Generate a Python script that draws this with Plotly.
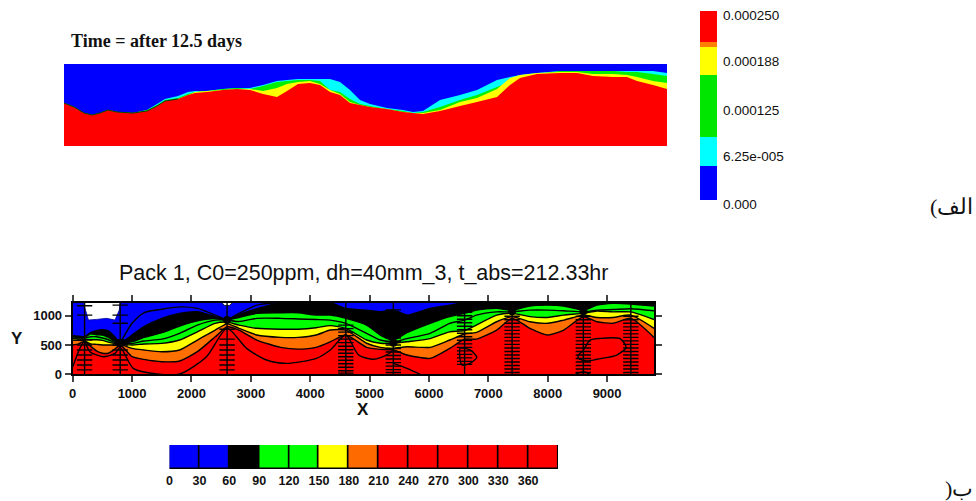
import plotly.graph_objects as go

W, H = 976, 501

# ---------- top field: height of each band edge above the base, sampled along the section
top_x = [0,10,20,28,36,44,53,69,83,93,101,114,124,131,143,159,173,186,199,213,223,234,246,256,266,276,286,296,306,323,339,349,359,376,396,413,433,446,456,473,496,513,529,549,563,573,589,603]
top_red = [43,39,33,31,33,36,34,33,35,40,45,47,51,53,54,56,57,56,52,49,55,62,63,61,54,51,43,41,39,37,34,33,32,35,40,44,49,61,68,72,73,73,70,69,69,65,61,57]
top_yellow = [43,39,33,31,33,36,34,33,35,40,45,47,51,54,55,56,57,57,55,58,62,64,65,62,56,52,44,41,39,37,34,33,33,36,44,48,57,68,71,73,74,74,72,72,71,69,65,63]
top_green = [43,39,33,31,33,36,34,33,36,41,46,48,52,54,55,57,58,57,60,64,65,66,66,65,56,54,47,42,40,37,35,33,34,39,46,51,59,64,69,72,75,75,75,75,74,74,72,70]
top_cyan = [43,39,33,31,33,36,34,33,36,42,47,50,54,55,55,57,58,58,61,65,66,67,67,67,67,64,56,46,42,38,36,34,35,46,51,56,66,69,71,73,75,75,75,75,75,75,75,73]
top_height = 82
top_edge_x = [0,10,20,28,36,44,53,69,83,93,101,114]
top_edge_y = [43,39,33,31,33,36,34,33,35,40,45,47]

# ---------- top legend
fld_low = [0, 0.0000453, 0.0000836, 0.000165, 0.000202, 0.000209]
fld_high = [0.0000453, 0.0000836, 0.000165, 0.000202, 0.000209, 0.00025]
fld_colors = ["#0000ff", "#00ffff", "#00e600", "#ffff00", "#ff8000", "#ff0000"]
fld_labels = ["0.000250", "0.000188", "0.000125", "6.25e-005", "0.000"]

# ---------- bottom section: contour heights
xs = [0,100,200,300,400,500,600,700,800,1000,1200,1500,1800,2100,2400,2600,2800,3100,3500,3800,4100,4338,4600,4950,5180,5400,5630,6020,6350,6600,6800,7140,7400,7700,8000,8270,8600,8830,9100,9400,9790]
y_top = 1222
L60 = [660,650,640,710,745,760,740,650,540,670,812,954,1040,1068,983,925,1020,1120,1222,1222,1222,1222,1125,1096,1068,1100,1011,1125,1180,1222,1222,1222,1222,1222,1222,1222,1222,1222,1222,1222,1222]
L90 = [645,635,630,690,675,670,630,570,530,557,630,710,824,915,950,925,970,1040,1050,1050,1010,1010,955,840,670,585,710,870,985,1040,1096,1125,1096,1165,1180,1165,1096,1180,1210,1200,1165]
L120 = [640,625,620,640,640,620,590,545,525,528,568,600,700,840,925,925,900,955,955,945,935,925,870,700,585,555,610,700,870,925,1010,1065,1065,1096,1096,1085,1065,1096,1105,1120,1085]
L150 = [610,605,600,590,590,580,550,530,520,500,517,528,585,725,870,890,840,785,770,770,795,830,785,585,530,530,555,610,725,745,840,1010,1040,985,970,1010,1040,1080,1065,1065,935]
L180 = [580,580,570,520,510,500,500,500,510,443,415,386,415,585,755,860,785,670,630,630,670,755,755,530,460,443,470,460,585,687,715,897,985,897,870,925,1010,970,970,1010,785]
L210 = [500,520,560,480,400,360,360,420,500,300,255,215,227,386,640,810,755,585,460,430,460,555,670,460,425,415,330,272,443,600,600,755,955,785,670,755,983,897,870,955,630]

L30_segments = [
    ([800,1000,1200,1500,1800,2100,2400,2600], [530,870,1050,1110,1150,1125,1010,925]),
    ([2600,2800,3100,3400], [925,1040,1180,1222]),
]
L240_segments = [
    ([0,120,200], [130,443,585]),
    ([200,290,516,712,800,1020,1413,1806,2254,2600,2928,3264,3600,4105,4338,4600,4815,5067,5292,5400],
     [585,386,300,358,460,102,6,6,300,784,443,244,187,273,415,670,330,256,330,415]),
    ([5400,5630,5850], [187,102,0]),
    ([8461,8602,8714], [0,45,0]),
]
L270_loops = [
    ([6526,6694,6806,6694,6554,6526], [443,415,290,187,159,443]),
    ([8517,8602,8714,8882,9219,9320,9163,8826,8658,8517,8517], [329,415,585,613,608,460,329,256,227,273,329]),
]
white_x = [180,224,264,404,572,712,785,797]
white_y = [1222,1040,926,937,955,926,1096,1222]
white2_x = [2510,2560,2640,2690]
white2_y = [1222,1175,1175,1222]

wells_x = [200,800,2600,4600,5400,6600,7400,8600,9400]
wells_screen = [
    [1170,1010,585,500,415,330,245,160,75],
    [1180,1010,870,585,500,415,330,245,160,75],
    [770,600,500,415,330,245,160,75],
    [840,780,720,660,600,540,480,420,360,300,240,180,120,60,20],
    [1100,1040,980,920,860,800,740,680,620,560,500,440,380,320,260,200,140,80,30],
    [1060,1000,940,880,820,760,700,640,580,520,460,400,340,280,220,170],
    [990,930,870,810,750,690,630,570,510,450,390,330,270,210,150,90,30],
    [990,930,870,810,750,690,630,570,510,450,390,330,270,210,150,90,30],
    [990,930,870,810,750,690,630,570,510,450,390,330,270,210,150,90,30],
]
node_x = [800,2600,5400,7400,8600]
node_y = [530,925,540,1075,1075]

# ---------- bottom legend
lev_low = [0,30,60,90,120,150,180,210,240,270,300,330,360]
lev_colors = ["#0000ff","#0000ff","#000000","#00ff00","#00ff00","#ffff00","#ff6a00","#ff0000","#ff0000","#ff0000","#ff0000","#ff0000","#ff0000"]

X_TITLE = "Pack 1, C0=250ppm, dh=40mm_3, t_abs=212.33hr"
PANEL_A = "(\u0627\u0644\u0641"
PANEL_B = ")\u0628"

fig = go.Figure()

# top field
fig.add_trace(go.Scatter(x=[top_x[0], top_x[-1]], y=[top_height, top_height], fill="tozeroy",
                         fillcolor="#0000ff", mode="none", xaxis="x", yaxis="y"))
for ys, col in [(top_cyan, "#00ffff"), (top_green, "#00f000"), (top_yellow, "#ffff00"), (top_red, "#ff0000")]:
    fig.add_trace(go.Scatter(x=top_x, y=ys, fill="tozeroy", fillcolor=col, mode="none", xaxis="x", yaxis="y"))
fig.add_trace(go.Scatter(x=top_edge_x, y=top_edge_y, mode="lines", line=dict(color="#004000", width=1),
                         xaxis="x", yaxis="y"))

# top legend
fig.add_trace(go.Bar(x=[0]*len(fld_low), y=[h-l for h, l in zip(fld_high, fld_low)], base=fld_low,
                     width=1, marker=dict(color=fld_colors, line=dict(width=0)), xaxis="x3", yaxis="y3"))

# bottom section
fig.add_trace(go.Scatter(x=[xs[0], xs[-1]], y=[y_top, y_top], fill="tozeroy", fillcolor="#0000ff",
                         mode="none", xaxis="x2", yaxis="y2"))
for ys, col in [(L60, "#000000"), (L90, "#00ff00"), (L120, None), (L150, "#ffff00"), (L180, "#ff7000"), (L210, "#ff0000")]:
    fig.add_trace(go.Scatter(x=xs, y=ys, mode="lines",
                             fill="tozeroy" if col else None, fillcolor=col,
                             line=dict(color="#000000", width=1.4, shape="spline", smoothing=0.6),
                             xaxis="x2", yaxis="y2"))
for sx, sy in L30_segments + L240_segments + L270_loops:
    fig.add_trace(go.Scatter(x=sx, y=sy, mode="lines", line=dict(color="#000000", width=1.4, shape="spline", smoothing=0.7),
                             xaxis="x2", yaxis="y2"))
fig.add_trace(go.Scatter(x=white_x, y=white_y, mode="lines", fill="toself", fillcolor="#ffffff",
                         line=dict(color="#0000a0", width=0.8), xaxis="x2", yaxis="y2"))
fig.add_trace(go.Scatter(x=white2_x, y=white2_y, mode="lines", fill="toself", fillcolor="#ffffff",
                         line=dict(color="#000000", width=0.8), xaxis="x2", yaxis="y2"))
for wx, wy in zip(wells_x, wells_screen):
    fig.add_trace(go.Scatter(x=[wx, wx], y=[0, y_top], mode="lines", line=dict(color="#000000", width=1.4),
                             xaxis="x2", yaxis="y2"))
    fig.add_trace(go.Scatter(x=[wx]*len(wy), y=wy, mode="markers",
                             marker=dict(symbol="line-ew", size=11, line=dict(color="#000000", width=1.4)),
                             xaxis="x2", yaxis="y2"))
fig.add_trace(go.Scatter(x=node_x, y=node_y, mode="markers", marker=dict(color="#000000", size=8),
                         xaxis="x2", yaxis="y2"))

# bottom legend
fig.add_trace(go.Bar(x=[v+15 for v in lev_low], y=[1]*len(lev_low), width=30,
                     marker=dict(color=lev_colors, line=dict(color="#000000", width=1.6)),
                     xaxis="x4", yaxis="y4"))

def xd(a, b): return [a/W, b/W]
def yd(top, bottom): return [1-bottom/H, 1-top/H]

tick_font = dict(family="Liberation Sans", size=13, color="#111111", weight="bold")
hidden = dict(visible=False, showgrid=False, zeroline=False, automargin=False)

fig.update_layout(
    template="none",
    width=W, height=H, autosize=False, showlegend=False, margin=dict(l=0, r=0, t=0, b=0, pad=0),
    paper_bgcolor="#ffffff", plot_bgcolor="#ffffff", barmode="overlay", bargap=0,
    xaxis=dict(domain=xd(64, 667), range=[0, 603], anchor="y", **hidden),
    yaxis=dict(domain=yd(64, 146), range=[0, 82], anchor="x", **hidden),
    xaxis3=dict(domain=xd(700, 717), range=[-0.5, 0.5], anchor="y3", **hidden),
    yaxis3=dict(domain=yd(11, 200), range=[0, 0.00025], anchor="x3", **hidden),
    xaxis2=dict(domain=xd(72.7, 654), range=[0, 9790], anchor="y2", showgrid=False, zeroline=False, automargin=False,
                tickvals=[0,1000,2000,3000,4000,5000,6000,7000,8000,9000], ticks="outside", ticklen=6, tickwidth=2,
                showline=True, linecolor="#000000", linewidth=2, mirror="allticks", tickfont=tick_font),
    yaxis2=dict(domain=yd(302.7, 374.3), range=[0, y_top], anchor="x2", showgrid=False, zeroline=False, automargin=False,
                tickvals=[0,500,1000], ticks="outside", ticklen=6, tickwidth=2,
                showline=True, linecolor="#000000", linewidth=2, mirror="allticks", tickfont=tick_font),
    xaxis4=dict(domain=xd(169.5, 558), range=[0, 390], anchor="y4", showgrid=False, zeroline=False, automargin=False,
                tickvals=lev_low, ticks="", ticklabelstandoff=2,
                tickfont=dict(family="Liberation Sans", size=12.5, color="#111111", weight="bold")),
    yaxis4=dict(domain=yd(445, 469), range=[0, 1], anchor="x4", visible=False, automargin=False),
)

def note(text, px, py, size, family="Liberation Sans", anchor="left", color="#111111"):
    fig.add_annotation(text=text, x=px/W, y=1-py/H, xref="paper", yref="paper", showarrow=False,
                       xanchor=anchor, yanchor="middle", font=dict(family=family, size=size, color=color))

note("<b>Time = after 12.5 days</b>", 69, 41, 18, family="Liberation Serif")
for lab, py in zip(fld_labels, [15, 62, 110, 156, 204]):
    note(lab, 721, py, 13.5)
note(X_TITLE, 363, 273, 21.5, anchor="center")
note("<b>Y</b>", 17, 338, 17, anchor="center")
note("<b>X</b>", 363, 409, 17, anchor="center")
note(PANEL_A, 975, 206, 22, family="Liberation Serif, DejaVu Serif", anchor="right")
note(PANEL_B, 975, 488, 22, family="Liberation Serif, DejaVu Serif", anchor="right")

fig.write_html("out.html", config={"displayModeBar": False},
               post_script="document.body.style.margin='0';document.body.style.overflow='hidden';")
